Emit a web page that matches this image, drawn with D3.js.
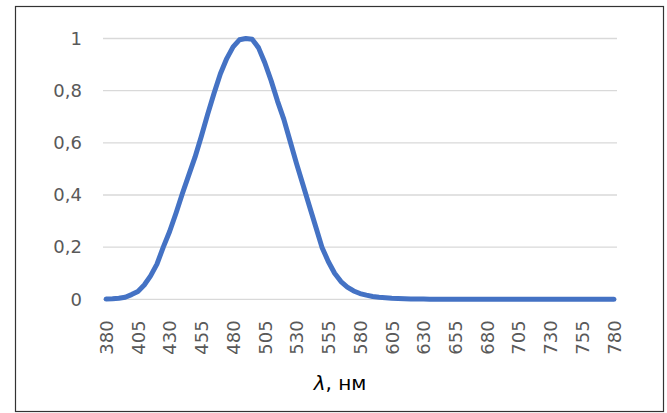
<!DOCTYPE html>
<html>
<head>
<meta charset="utf-8">
<script src="https://cdn.jsdelivr.net/npm/d3@7"></script>
<style>
  body { margin: 0; background: #fff; }
  svg { display: block; }
  .ylabel, .xlabel { font-family: "DejaVu Sans", sans-serif; fill: #595959; }
</style>
</head>
<body>
<svg id="chart" width="667" height="413"></svg>
<script>
// wavelength categories, 5 nm step
const wavelengths = d3.range(380, 781, 5);
// relative sensitivity
const sensitivity = [
  0.001, 0.002, 0.004, 0.008, 0.018, 0.03, 0.055, 0.09, 0.135, 0.2,
  0.26, 0.33, 0.405, 0.475, 0.545, 0.625, 0.71, 0.79, 0.865, 0.923,
  0.968, 0.995, 1.0, 0.997, 0.965, 0.907, 0.838, 0.76, 0.69, 0.605,
  0.52, 0.44, 0.36, 0.28, 0.2, 0.145, 0.1, 0.068, 0.047, 0.032,
  0.022, 0.016, 0.011, 0.008, 0.006, 0.004, 0.003, 0.002, 0.0015, 0.001,
  0.0008, 0.0006, 0.0005, 0.0004, 0.0003, 0.0002, 0.0002, 0.0001, 0.0001, 0.0001,
  0, 0, 0, 0, 0, 0, 0, 0, 0, 0,
  0, 0, 0, 0, 0, 0, 0, 0, 0, 0,
  0
];
const yTicks = [0, 0.2, 0.4, 0.6, 0.8, 1];
const xTickLabels = wavelengths.filter((d, i) => i % 5 === 0);
const axisTitle = ["λ", ", нм"];

const plot = { left: 103, right: 617, top: 38.5, bottom: 299.3 };
const svg = d3.select("#chart");

svg
  .append("rect")
  .attr("x", 15.5)
  .attr("y", 6.5)
  .attr("width", 648)
  .attr("height", 405)
  .attr("fill", "#fff")
  .attr("stroke", "#333")
  .attr("stroke-width", 1.2);

const xScale = d3
  .scalePoint()
  .domain(wavelengths)
  .range([plot.left, plot.right])
  .padding(0.5);

const yScale = d3.scaleLinear().domain([0, 1]).range([plot.bottom, plot.top]);

// gridlines
svg
  .append("g")
  .selectAll("line")
  .data(yTicks)
  .enter()
  .append("line")
  .attr("x1", plot.left)
  .attr("x2", plot.right)
  .attr("y1", (d) => yScale(d))
  .attr("y2", (d) => yScale(d))
  .attr("stroke", "#d9d9d9")
  .attr("stroke-width", 1.3);

// y labels
const yAxis = d3
  .axisLeft(yScale)
  .tickValues(yTicks)
  .tickSize(0)
  .tickPadding(21)
  .tickFormat((d) => String(d).replace(".", ","));

svg
  .append("g")
  .attr("transform", `translate(${plot.left},0)`)
  .call(yAxis)
  .call((g) => g.select(".domain").remove())
  .selectAll("text")
  .attr("class", "ylabel")
  .attr("fill", "#595959")
  .style("font-size", "18px");

// x labels, rotated
const xAxis = d3
  .axisBottom(xScale)
  .tickValues(xTickLabels)
  .tickSize(0)
  .tickPadding(0);

svg
  .append("g")
  .attr("transform", `translate(0,${plot.bottom})`)
  .call(xAxis)
  .call((g) => g.select(".domain").remove())
  .selectAll("text")
  .attr("class", "xlabel")
  .attr("fill", "#595959")
  .style("font-size", "18px")
  .attr("text-anchor", "end")
  .attr("transform", "rotate(-90)")
  .attr("x", -21)
  .attr("y", 0)
  .attr("dy", "0.35em");

// curve
const line = d3
  .line()
  .x((d, i) => xScale(wavelengths[i]))
  .y((d) => yScale(d));

svg
  .append("path")
  .datum(sensitivity)
  .attr("d", line)
  .attr("fill", "none")
  .attr("stroke", "#4472c4")
  .attr("stroke-width", 5)
  .attr("stroke-linejoin", "round")
  .attr("stroke-linecap", "round");

// axis title
const title = svg
  .append("text")
  .attr("x", 340)
  .attr("y", 390)
  .attr("text-anchor", "middle")
  .style("font-family", "'DejaVu Sans', sans-serif")
  .style("font-size", "20px")
  .attr("fill", "#000");

title.append("tspan").style("font-style", "italic").text(axisTitle[0]);
title.append("tspan").text(axisTitle[1]);
</script>
</body>
</html>
